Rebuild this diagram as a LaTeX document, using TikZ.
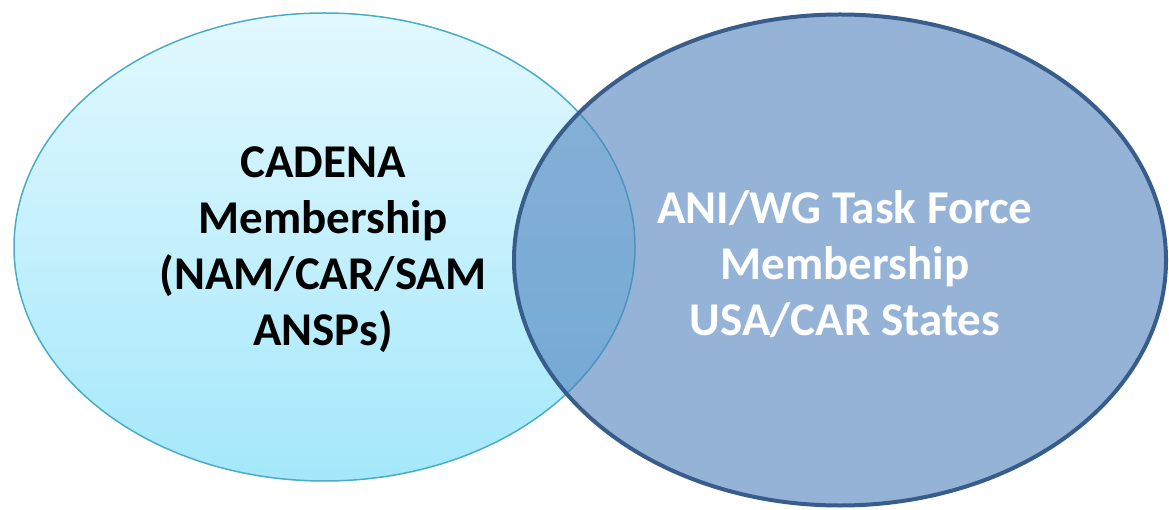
\documentclass[tikz,border=0pt]{standalone}
\usepackage{fontspec}
\setmainfont{Carlito}
\usetikzlibrary{shapes.geometric}
\definecolor{cadenaline}{RGB}{75,172,198}
\definecolor{cadenatop}{RGB}{226,248,254}
\definecolor{cadenabot}{RGB}{164,232,251}
\definecolor{aniline}{RGB}{56,93,138}
\definecolor{anifill}{RGB}{79,129,189}

\begin{document}
\begin{tikzpicture}[x=1pt,y=-1pt]
\tikzstyle{every node}+=[inner sep=0pt]
\tikzstyle{member text}=[align=center, font=\bfseries\fontsize{47}{56}\selectfont]
\useasboundingbox (0,0) rectangle (1169,510);
% the two memberships
\node [ellipse, draw=cadenaline, line width=1.5pt, top color=cadenatop, bottom color=cadenabot, minimum width=621pt, minimum height=468pt] (cadena) at (324.5,247) {};
\node [ellipse, draw=aniline, line width=4pt, fill=anifill, fill opacity=0.6, minimum width=652pt, minimum height=491pt] (ani) at (840,260) {};
% labels
\node [member text, text=black] (cadenalabel) at (323,250) {CADENA\\Membership\\(NAM/CAR/SAM\\ANSPs)};
\node [member text, text=white] (anilabel) at (845,264) {ANI/WG Task Force\\Membership\\USA/CAR States};
\end{tikzpicture}
\end{document}
